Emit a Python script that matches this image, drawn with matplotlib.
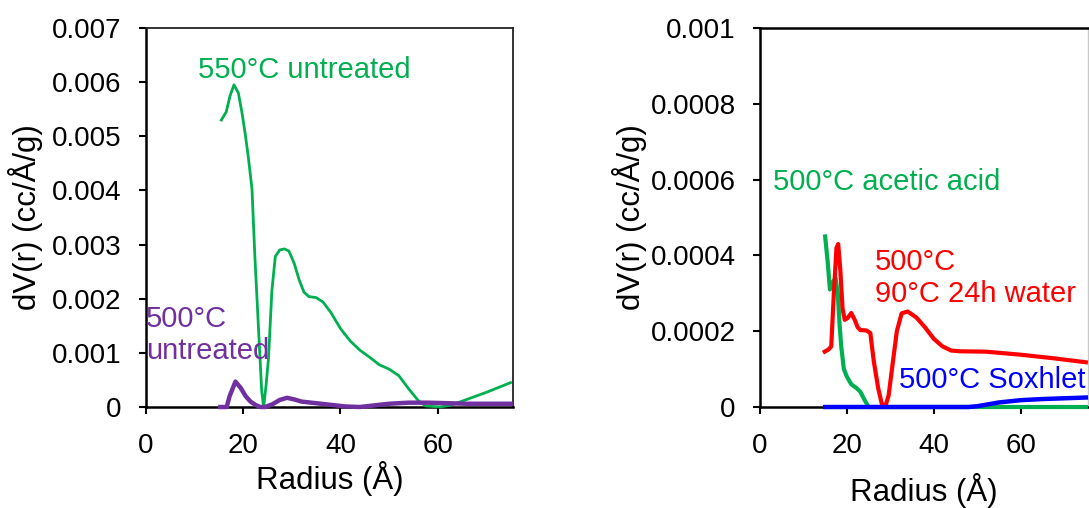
import matplotlib
matplotlib.use("Agg")
import matplotlib.pyplot as plt

plt.rcParams["font.family"] = ["Liberation Sans", "DejaVu Sans"]

# ---- Left panel: untreated samples ----
r_550_untreated = [15.5, 16.5, 17.3, 18.1, 19.0, 19.7, 20.4, 21.0, 21.8, 22.4, 23.1, 23.8,
                   24.2, 24.7, 25.2, 25.9, 26.6, 27.5, 28.5, 29.4, 30.5, 31.5, 32.5, 33.5,
                   35.0, 36.4, 38.0, 40.0, 42.0, 44.0, 46.0, 48.0, 50.0, 52.0, 54.0, 56.0,
                   57.5, 60.5, 63.0, 66.0, 70.0, 75.0]
dv_550_untreated = [0.00530, 0.00545, 0.00575, 0.00595, 0.00580, 0.00546, 0.00505, 0.00465,
                    0.00403, 0.00278, 0.00153, 0.00030, 0.00000, 0.00040, 0.00090, 0.00215,
                    0.00278, 0.00290, 0.00292, 0.00288, 0.00265, 0.00235, 0.00212, 0.00204,
                    0.00202, 0.00194, 0.00175, 0.00145, 0.00122, 0.00105, 0.00092, 0.00078,
                    0.00070, 0.00058, 0.00034, 0.00012, 0.00002, 0.00000, 0.00004, 0.00014,
                    0.00027, 0.00045]

r_500_untreated = [15.3, 16.6, 17.2, 18.4, 19.5, 20.5, 21.5, 22.5, 23.5, 24.5, 26.0, 27.5,
                   29.0, 30.5, 32.0, 35.0, 38.0, 41.0, 44.0, 47.0, 50.0, 54.0, 58.0, 62.0,
                   66.0, 75.0]
dv_500_untreated = [0.00000, 0.00000, 0.00020, 0.00047, 0.00035, 0.00020, 0.00010, 0.00004,
                    0.00000, 0.00000, 0.00005, 0.00013, 0.00017, 0.00014, 0.00010, 0.00007,
                    0.00004, 0.00001, 0.00000, 0.00003, 0.00006, 0.00008, 0.00008, 0.00007,
                    0.00006, 0.00006]

# ---- Right panel: treated 500°C samples ----
r_acetic = [15.0, 15.6, 16.1, 16.8, 17.4, 17.9, 18.3, 18.7, 19.3, 20.0, 21.0, 22.2, 23.1,
            24.0, 25.0, 26.0, 40.0, 60.0, 75.0]
dv_acetic = [0.00045, 0.00038, 0.00031, 0.00033, 0.00034, 0.00030, 0.00022, 0.00016, 0.00010,
             0.00008, 0.00006, 0.00005, 0.00004, 0.00002, 0.00000, 0.00000, 0.00000, 0.00000,
             0.00000]

r_water = [14.9, 15.8, 16.4, 17.0, 17.6, 18.0, 18.5, 19.0, 19.5, 20.2, 21.0, 21.8, 22.5,
           23.1, 24.5, 25.4, 26.2, 27.2, 28.0, 28.8, 29.6, 30.6, 31.5, 32.6, 34.0, 36.0,
           38.0, 40.0, 42.0, 44.0, 46.0, 52.0, 60.0, 68.0, 75.0]
dv_water = [0.000146, 0.000152, 0.000160, 0.000300, 0.000420, 0.000430, 0.000360, 0.000260,
            0.000230, 0.000235, 0.000248, 0.000230, 0.000210, 0.000203, 0.000202, 0.000195,
            0.000120, 0.000050, 0.000010, 0.000000, 0.000030, 0.000120, 0.000200, 0.000247,
            0.000252, 0.000236, 0.000210, 0.000180, 0.000160, 0.000149, 0.000147, 0.000146,
            0.000138, 0.000128, 0.000118]

r_soxhlet = [15.0, 20.0, 30.0, 40.0, 48.0, 50.0, 52.0, 55.0, 60.0, 65.0, 70.0, 75.0]
dv_soxhlet = [0.0, 0.0, 0.0, 0.0, 0.0, 0.000002, 0.000006, 0.000012, 0.000018, 0.000021,
              0.000023, 0.000025]

x_ticks = [0, 20, 40, 60]
left_y_ticks = [0, 0.001, 0.002, 0.003, 0.004, 0.005, 0.006, 0.007]
left_y_labels = ["0", "0.001", "0.002", "0.003", "0.004", "0.005", "0.006", "0.007"]
right_y_ticks = [0, 0.0002, 0.0004, 0.0006, 0.0008, 0.001]
right_y_labels = ["0", "0.0002", "0.0004", "0.0006", "0.0008", "0.001"]

GREEN = "#00B050"
PURPLE = "#7030A0"
RED = "#FF0000"
BLUE = "#0000FF"

fig = plt.figure(figsize=(10.89, 5.08), dpi=100)
ax1 = fig.add_axes([146 / 1089, 101 / 508, 367 / 1089, 379 / 508])
ax2 = fig.add_axes([760 / 1089, 101 / 508, 328 / 1089, 379 / 508])

TICK_FS = 20
LABEL_FS = 22.5
NOTE_FS = 21


def style(ax, yticks, ylabels, ymax, xpad, ylab_x):
    ax.set_xlim(0, 75.5)
    ax.set_ylim(0, ymax)
    ax.set_xticks(x_ticks)
    ax.set_xticklabels([str(t) for t in x_ticks])
    ax.set_yticks(yticks)
    ax.set_yticklabels(ylabels)
    ax.tick_params(direction="out", length=5, width=1.5, labelsize=TICK_FS)
    ax.tick_params(axis="x", pad=14)
    ax.tick_params(axis="y", pad=12.5)
    for side in ("left", "bottom"):
        ax.spines[side].set_linewidth(1.8)
        ax.spines[side].set_color("black")
    ax.set_xlabel("Radius (Å)", fontsize=LABEL_FS, labelpad=xpad)
    ax.set_ylabel("dV(r) (cc/Å/g)", fontsize=LABEL_FS)
    ax.yaxis.set_label_coords(ylab_x, 0.5)


style(ax1, left_y_ticks, left_y_labels, 0.007, 1, (43 - 146) / 367)
ax1.spines["top"].set_linewidth(1.3)
ax1.spines["top"].set_color("#222222")
ax1.spines["right"].set_linewidth(1.3)
ax1.spines["right"].set_color("#222222")

ax1.plot(r_550_untreated, dv_550_untreated, color=GREEN, lw=2.0, clip_on=False, zorder=3)
ax1.plot(r_500_untreated, dv_500_untreated, color=PURPLE, lw=3.2, clip_on=False, zorder=4)
ax1.text(10.7, 0.00622, "550°C untreated", color=GREEN, fontsize=NOTE_FS, va="center")
ax1.text(0, 0.00133, "500°C\nuntreated", color=PURPLE, fontsize=NOTE_FS, va="center",
         linespacing=1.15)

style(ax2, right_y_ticks, right_y_labels, 0.001, 10, (647 - 760) / 328)
ax2.spines["top"].set_linewidth(1.8)
ax2.spines["top"].set_color("black")
ax2.spines["right"].set_linewidth(1.0)
ax2.spines["right"].set_color("#c8c8c8")

ax2.plot(r_acetic, dv_acetic, color=GREEN, lw=3.0, clip_on=False, zorder=3)
ax2.plot(r_water, dv_water, color=RED, lw=3.0, clip_on=False, zorder=4)
ax2.plot(r_soxhlet, dv_soxhlet, color=BLUE, lw=3.2, clip_on=False, zorder=5)
ax2.text(3.0, 0.000594, "500°C acetic acid", color=GREEN, fontsize=NOTE_FS, va="center")
ax2.text(26.4, 0.00034, "500°C\n90°C 24h water", color=RED, fontsize=NOTE_FS, va="center",
         linespacing=1.15)
ax2.text(32.0, 0.0000712, "500°C Soxhlet", color=BLUE, fontsize=NOTE_FS, va="center")

fig.savefig("out.png", dpi=100)
